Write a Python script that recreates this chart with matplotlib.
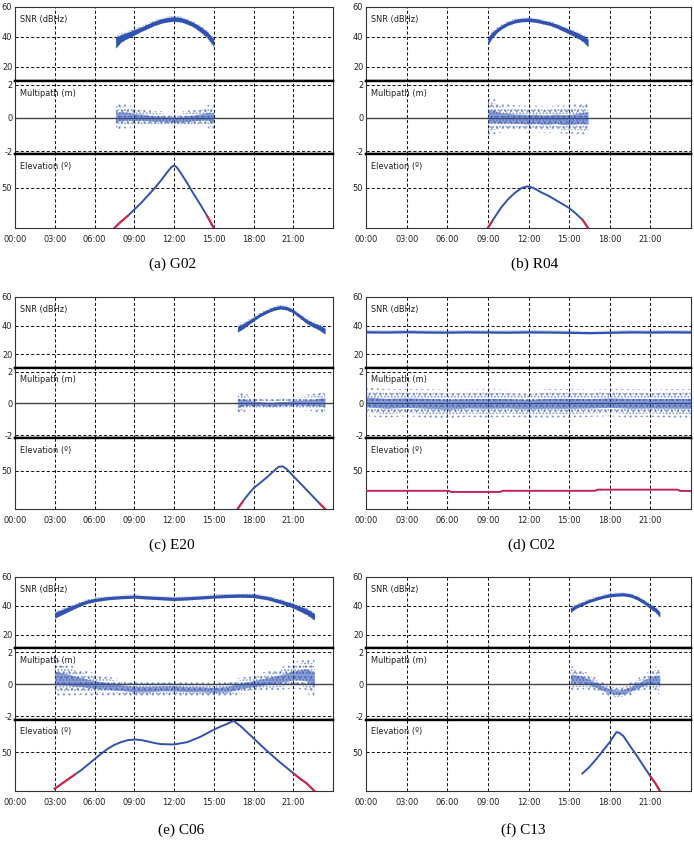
import numpy as np
import matplotlib.pyplot as plt

# ---------------- data (time in hours of day) ----------------
names = ['(a) G02', '(b) R04', '(c) E20', '(d) C02', '(e) C06', '(f) C13']

# G02
g02_t = [7.6, 8.0, 8.5, 9.0, 9.5, 10.0, 10.5, 11.0, 11.5, 12.0, 12.5, 13.0, 13.5, 14.0, 14.5, 15.0]
g02_snr = [36, 39, 41, 43, 45, 47, 49, 50.5, 51.5, 52, 51.5, 50, 48, 45, 41.5, 36]
g02_snr_w = [3.5, 2.5, 2, 1.8, 1.5, 1.5, 1.5, 1.5, 1.5, 1.5, 1.5, 1.5, 1.5, 1.8, 2, 2.5]
g02_mp = [0.05, 0.1, 0.1, 0.05, 0.05, 0.0, -0.05, -0.05, -0.1, -0.1, -0.1, -0.05, 0.0, 0.05, 0.1, 0.0]
g02_mp_w = [0.9, 0.8, 0.7, 0.6, 0.55, 0.5, 0.45, 0.45, 0.45, 0.45, 0.45, 0.5, 0.5, 0.55, 0.65, 0.9]
g02_el_t = [7.5, 8.0, 8.5, 9.0, 9.5, 10.0, 10.5, 11.0, 11.5, 11.8, 12.0, 12.2, 12.5, 13.0, 13.5, 14.0, 14.5, 15.0]
g02_el = [0, 8, 15, 23, 31, 40, 49, 59, 70, 76, 78, 76, 69, 56, 42, 29, 15, 0]

# R04
r04_t = [9.0, 9.3, 9.7, 10.0, 10.5, 11.0, 11.5, 12.0, 12.5, 13.0, 13.5, 14.0, 14.5, 15.0, 15.5, 16.0, 16.4]
r04_snr = [37, 41, 44.5, 46.5, 49, 50.5, 51.3, 51.5, 51, 50, 49, 47.5, 45.5, 43.5, 41.5, 39, 36]
r04_snr_w = [2.5, 2, 1.5, 1.3, 1.2, 1.2, 1.2, 1.2, 1.2, 1.2, 1.2, 1.3, 1.4, 1.5, 1.7, 2, 2.5]
r04_mp = [0.1, 0.1, 0.05, 0.0, 0.0, -0.05, -0.05, -0.1, -0.05, -0.1, -0.1, -0.05, -0.1, -0.1, -0.05, 0.0, 0.0]
r04_mp_w = [1.2, 1.1, 1.0, 0.9, 0.85, 0.8, 0.8, 0.8, 0.8, 0.8, 0.8, 0.8, 0.85, 0.85, 0.9, 1.0, 1.1]
r04_el_t = [9.0, 9.3, 9.6, 10.0, 10.5, 11.0, 11.5, 11.9, 12.3, 13.0, 13.5, 14.0, 14.5, 15.0, 15.5, 16.0, 16.4]
r04_el = [0, 8, 16, 26, 36, 44, 50, 52, 50.5, 44, 40, 35, 30, 25, 18, 10, 0]

# E20
e20_t = [16.8, 17.2, 17.6, 18.0, 18.5, 19.0, 19.5, 20.0, 20.5, 21.0, 21.5, 22.0, 22.5, 23.0, 23.4]
e20_snr = [37.5, 39.5, 42, 44.5, 47.5, 49.8, 51.8, 52.8, 52.2, 50, 46.5, 43, 40.5, 38.5, 36]
e20_snr_w = [2, 1.8, 1.5, 1.3, 1.2, 1.2, 1.2, 1.2, 1.2, 1.2, 1.3, 1.4, 1.5, 1.8, 2]
e20_mp = [0.0, 0.05, 0.05, 0.0, 0.0, -0.05, -0.05, 0.0, 0.0, 0.05, 0.05, 0.05, 0.05, 0.1, 0.05]
e20_mp_w = [0.8, 0.6, 0.5, 0.4, 0.35, 0.35, 0.35, 0.35, 0.35, 0.4, 0.45, 0.5, 0.55, 0.7, 0.85]
e20_el_t = [16.8, 17.2, 17.6, 18.0, 18.5, 19.0, 19.5, 19.9, 20.2, 20.5, 21.0, 21.5, 22.0, 22.5, 23.0, 23.4]
e20_el = [0, 10, 19, 27, 34, 41, 49, 55, 55.5, 52, 43, 34, 25, 16, 7, 0]

# C02
c02_t = [0, 1.5, 3, 4.5, 6, 7.5, 9, 10.5, 12, 13.5, 15, 16.5, 18, 19.5, 21, 22.5, 24]
c02_snr = [35.6, 35.5, 35.7, 35.5, 35.4, 35.6, 35.5, 35.4, 35.6, 35.5, 35.3, 35.0, 35.3, 35.6, 35.5, 35.6, 35.5]
c02_snr_w = [0.8, 0.8, 0.8, 0.8, 0.8, 0.8, 0.8, 0.8, 0.8, 0.8, 0.8, 0.8, 0.8, 0.8, 0.8, 0.8, 0.8]
c02_mp = [0.1, 0.0, 0.05, 0.0, -0.05, 0.0, 0.0, 0.0, -0.05, 0.0, 0.0, 0.0, 0.05, 0.0, 0.0, 0.0, 0.0]
c02_mp_w = [0.9, 0.9, 0.85, 0.9, 0.9, 0.85, 0.9, 0.85, 0.85, 0.9, 0.9, 0.85, 0.85, 0.9, 0.85, 0.9, 0.9]
c02_el_t = [0, 6.1, 6.3, 9.9, 10.1, 16.9, 17.1, 23.0, 23.2, 24]
c02_el = [23.7, 23.7, 22.2, 22.2, 23.7, 23.7, 25.2, 25.2, 23.5, 23.5]

# C06
c06_t = [3.0, 3.5, 4.0, 4.5, 5.0, 5.5, 6.0, 7.0, 8.0, 9.0, 10.0, 11.0, 12.0, 13.0, 14.0, 15.0,
         16.0, 17.0, 18.0, 19.0, 20.0, 21.0, 21.5, 22.0, 22.6]
c06_snr = [33.5, 35.5, 37.5, 39.5, 41.5, 43, 44, 45.3, 46, 46.4, 45.8, 45.3, 44.8, 45.2, 45.8, 46.4,
           46.8, 47.1, 46.9, 45.5, 43, 40, 38, 36, 32.5]
c06_snr_w = [2, 1.8, 1.6, 1.4, 1.3, 1.2, 1.2, 1.1, 1.1, 1.1, 1.1, 1.1, 1.1, 1.1, 1.1, 1.1,
             1.1, 1.1, 1.2, 1.2, 1.3, 1.5, 1.7, 2, 2.2]
c06_mp = [0.4, 0.35, 0.3, 0.2, 0.15, 0.05, 0.0, -0.1, -0.2, -0.3, -0.3, -0.25, -0.25, -0.3, -0.3, -0.35,
          -0.3, -0.1, 0.05, 0.2, 0.35, 0.55, 0.6, 0.6, 0.3]
c06_mp_w = [1.2, 1.1, 1.0, 0.9, 0.8, 0.75, 0.7, 0.6, 0.5, 0.5, 0.5, 0.45, 0.45, 0.45, 0.45, 0.45,
            0.5, 0.5, 0.55, 0.6, 0.7, 0.8, 0.9, 1.1, 1.3]
c06_el_t = [3.0, 3.5, 4.0, 4.5, 5.0, 5.5, 6.0, 6.5, 7.0, 7.5, 8.0, 8.5, 9.0, 9.5, 10.0, 10.5, 11.0,
            12.0, 13.0, 14.0, 15.0, 15.5, 16.0, 16.5, 17.0, 17.5, 18.0, 19.0, 20.0, 21.0, 21.5, 22.0, 22.6]
c06_el = [3, 9, 15, 21, 27, 34, 41, 48, 54.5, 59.5, 63, 65.5, 66.4, 65.8, 64, 62, 60.5,
          60, 63, 70, 79, 83, 86.5, 90.5, 84, 76, 68, 52, 37, 23, 16, 10, 0]

# C13
c13_t = [15.1, 15.5, 16.0, 16.5, 17.0, 17.5, 18.0, 18.5, 19.0, 19.5, 20.0, 20.5, 21.0, 21.4, 21.7]
c13_snr = [37, 39.5, 41.5, 43.5, 45, 46.3, 47.3, 47.8, 48, 47.3, 45.5, 42.8, 39.5, 37, 34]
c13_snr_w = [1.5, 1.3, 1.2, 1.1, 1.1, 1.1, 1.1, 1.1, 1.1, 1.1, 1.2, 1.3, 1.4, 1.6, 1.8]
c13_mp = [0.35, 0.35, 0.3, 0.15, -0.05, -0.25, -0.4, -0.5, -0.45, -0.3, -0.1, 0.1, 0.25, 0.3, 0.25]
c13_mp_w = [0.8, 0.7, 0.6, 0.5, 0.45, 0.4, 0.4, 0.4, 0.4, 0.4, 0.45, 0.5, 0.6, 0.8, 0.9]
c13_el_t = [15.98, 16.5, 17.0, 17.5, 18.0, 18.3, 18.5, 18.7, 19.0, 19.5, 20.0, 20.5, 21.0, 21.4, 21.7]
c13_el = [22.5, 31, 41, 52, 63, 71, 76, 75, 71, 58, 45.5, 32, 19, 9, 0]

# elevation below which the track is drawn red, per satellite
red_below = [15.5, 10.5, 10.5, 90, 25, 20]

panels = [
    (g02_t, g02_snr, g02_snr_w, g02_mp, g02_mp_w, g02_el_t, g02_el),
    (r04_t, r04_snr, r04_snr_w, r04_mp, r04_mp_w, r04_el_t, r04_el),
    (e20_t, e20_snr, e20_snr_w, e20_mp, e20_mp_w, e20_el_t, e20_el),
    (c02_t, c02_snr, c02_snr_w, c02_mp, c02_mp_w, c02_el_t, c02_el),
    (c06_t, c06_snr, c06_snr_w, c06_mp, c06_mp_w, c06_el_t, c06_el),
    (c13_t, c13_snr, c13_snr_w, c13_mp, c13_mp_w, c13_el_t, c13_el),
]

# ---------------- layout ----------------
W, H = 694, 842
plt.rcParams['hatch.linewidth'] = 0.9
plt.rcParams['axes.unicode_minus'] = False
fig = plt.figure(figsize=(W / 100, H / 100), dpi=100)

rows_px = [(7, 228), (297, 509), (577, 791)]
cols_px = [(15, 333), (366, 691)]
caption_x = [173, 535, 172, 531, 181, 523]
caption_y = [264, 545, 830]

BLUE = '#3152b0'
RED = '#e0223e'
CRIMSON = '#c2245a'
grid_kw = dict(color='#1a1a1a', lw=0.75, ls=(0, (3, 2)))
small = dict(family='DejaVu Sans', stretch='condensed', size=6.6)


def px_axes(x0, x1, y0, y1):
    return fig.add_axes([x0 / W, 1 - y1 / H, (x1 - x0) / W, (y1 - y0) / H])


for i, (t, snr, snr_w, mp, mp_w, el_t, el) in enumerate(panels):
    (x0, x1), (y0, y1) = cols_px[i % 2], rows_px[i // 2]
    h3 = (y1 - y0) / 3
    ax_snr = px_axes(x0, x1, y0, y0 + h3)
    ax_mp = px_axes(x0, x1, y0 + h3, y0 + 2 * h3)
    ax_el = px_axes(x0, x1, y0 + 2 * h3, y1)

    t = np.array(t)
    snr, snr_w = np.array(snr), np.array(snr_w)
    mp, mp_w = np.array(mp), np.array(mp_w)
    el_t, el = np.array(el_t), np.array(el)

    # SNR: dense dot band with fuzzy edge
    ax_snr.fill_between(t, snr - 1.4 * snr_w, snr + 1.4 * snr_w, facecolor='none',
                        edgecolor=BLUE, hatch='......', lw=0, alpha=0.6, zorder=3)
    ax_snr.fill_between(t, snr - snr_w, snr + snr_w, color=BLUE, lw=0, zorder=3)

    # Multipath: scattered dot cloud, denser towards the middle
    ax_mp.axhline(0, color='#444444', lw=1.0, zorder=1)
    for yv in (-2, 2):
        ax_mp.axhline(yv, **grid_kw, zorder=1)
    ax_mp.fill_between(t, mp - mp_w, mp + mp_w, facecolor='none', edgecolor=BLUE,
                       hatch='...', lw=0, alpha=0.5, zorder=3)
    ax_mp.fill_between(t, mp - 0.75 * mp_w, mp + 0.75 * mp_w, facecolor='none', edgecolor=BLUE,
                       hatch='.....', lw=0, alpha=0.55, zorder=3)
    ax_mp.fill_between(t, mp - 0.35 * mp_w, mp + 0.35 * mp_w, color=BLUE, alpha=0.55,
                       lw=0, zorder=3)

    # Elevation
    ax_el.axhline(50, **grid_kw, zorder=1)
    if red_below[i] >= 90:
        ax_el.plot(el_t, el, color=CRIMSON, lw=1.4, zorder=3)
    else:
        ax_el.plot(el_t, el, color=BLUE, lw=1.4, zorder=3)
        low = np.ma.masked_where(el > red_below[i], el)
        ax_el.plot(el_t, low, color=RED, lw=1.4, zorder=4)

    for yv in (20, 40):
        ax_snr.axhline(yv, **grid_kw, zorder=1)

    for ax, lim, ticks, lab in [(ax_snr, (10.5, 60), [20, 40, 60], 'SNR (dBHz)'),
                                (ax_mp, (-2.2, 2.25), [-2, 0, 2], 'Multipath (m)'),
                                (ax_el, (0, 92), [50], 'Elevation (º)')]:
        ax.set_xlim(0, 24)
        ax.set_ylim(*lim)
        ax.set_yticks(ticks)
        ax.set_xticks(range(0, 24, 3))
        ax.set_xticklabels(['%02d:00' % h for h in range(0, 24, 3)])
        for xv in range(3, 24, 3):
            ax.axvline(xv, **grid_kw, zorder=1)
        ax.tick_params(length=0, pad=2, labelcolor='#222222')
        for tl in ax.get_xticklabels() + ax.get_yticklabels():
            tl.set(**small)
        for s in ax.spines.values():
            s.set_color('#333333')
            s.set_linewidth(0.8)
        ax.text(0.015, 0.83, lab, transform=ax.transAxes, va='center',
                color='#222222', zorder=5, **small)

    ax_snr.tick_params(labelbottom=False)
    ax_mp.tick_params(labelbottom=False)
    ax_el.tick_params(axis='x', pad=5)
    ax_snr.spines['bottom'].set(color='black', linewidth=1.7)
    ax_mp.spines['top'].set(color='black', linewidth=1.7)
    ax_mp.spines['bottom'].set(color='black', linewidth=1.7)
    ax_el.spines['top'].set(color='black', linewidth=1.7)

    fig.text(caption_x[i] / W, 1 - caption_y[i // 2] / H, names[i], ha='center', va='center',
             fontsize=11, family=['Liberation Serif', 'DejaVu Serif'])

fig.savefig('out.png', dpi=100)
